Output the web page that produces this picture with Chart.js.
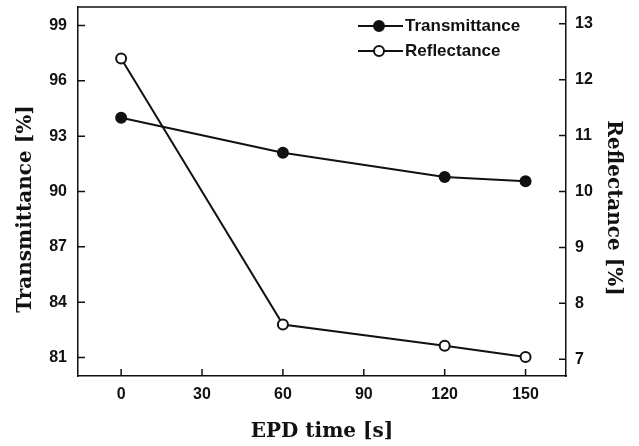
<!DOCTYPE html>
<html>
<head>
<meta charset="utf-8">
<script src="https://cdn.jsdelivr.net/npm/chart.js@4"></script>
<style>
  body { margin: 0; background: #fff; }
  #wrap { width: 639px; height: 446px; }
</style>
</head>
<body>
<div id="wrap"><canvas id="myChart"></canvas></div>
<script>
let times = [0, 60, 120, 150];
let transmittance = [94.0, 92.1, 90.78, 90.55];
let reflectance = [12.38, 7.62, 7.24, 7.04];

let xTicks = [0, 30, 60, 90, 120, 150];
let tTicks = [81, 84, 87, 90, 93, 96, 99];
let rTicks = [7, 8, 9, 10, 11, 12, 13];

const ink = '#111';
const tickFont = { family: 'Liberation Sans, Arial, sans-serif', size: 16, weight: 'bold' };
const titleFont = 'bold 20px "DejaVu Serif", serif';

function setTicks(list) {
    return function (scale) {
        scale.ticks = list.map(v => ({ value: v }));
    };
}

function fitTo(size) {
    return function (s) {
        if (s.isHorizontal()) s.height = size; else s.width = size;
        s.paddingTop = 0;
        s.paddingBottom = 0;
        s.paddingLeft = 0;
        s.paddingRight = 0;
    };
}

// inward tick marks, closed box, axis titles and legend
const decorations = {
    id: 'decorations',
    afterDraw(chart) {
        const c = chart.ctx;
        const a = chart.chartArea;
        const len = 7;
        c.save();
        c.strokeStyle = ink;
        c.lineWidth = 1.5;
        c.beginPath();
        c.moveTo(a.left, a.top);
        c.lineTo(a.right, a.top);
        chart.scales.x.ticks.forEach(t => {
            const px = chart.scales.x.getPixelForValue(t.value);
            c.moveTo(px, a.bottom);
            c.lineTo(px, a.bottom - len);
        });
        chart.scales.y.ticks.forEach(t => {
            const py = chart.scales.y.getPixelForValue(t.value);
            c.moveTo(a.left, py);
            c.lineTo(a.left + len, py);
        });
        chart.scales.y2.ticks.forEach(t => {
            const py = chart.scales.y2.getPixelForValue(t.value);
            c.moveTo(a.right, py);
            c.lineTo(a.right - len, py);
        });
        c.stroke();

        // titles
        c.fillStyle = ink;
        c.font = titleFont;
        c.textAlign = 'center';
        c.textBaseline = 'middle';
        c.fillText('EPD time [s]', (a.left + a.right) / 2, 432);
        c.save();
        c.translate(26, 209);
        c.rotate(-Math.PI / 2);
        c.fillText('Transmittance [%]', 0, 0);
        c.restore();
        c.save();
        c.translate(613, 208);
        c.rotate(Math.PI / 2);
        c.fillText('Reflectance [%]', 0, 0);
        c.restore();

        // legend
        const rows = [26, 51];
        chart.data.datasets.forEach((ds, i) => {
            const y = rows[i];
            c.strokeStyle = ds.borderColor;
            c.lineWidth = 2;
            c.beginPath();
            c.moveTo(358, y);
            c.lineTo(403, y);
            c.stroke();
            c.beginPath();
            c.arc(379, y, 5, 0, Math.PI * 2);
            c.fillStyle = ds.pointBackgroundColor;
            c.fill();
            c.stroke();
            c.fillStyle = ink;
            c.font = 'bold 17px "Liberation Sans", Arial, sans-serif';
            c.textAlign = 'left';
            c.fillText(ds.label, 405, y);
        });
        c.restore();
    }
};

let ctx = document.getElementById('myChart').getContext('2d');

let chart = new Chart(ctx, {
    type: 'line',
    data: {
        datasets: [{
            label: 'Transmittance',
            data: times.map((t, i) => ({ x: t, y: transmittance[i] })),
            yAxisID: 'y',
            borderColor: ink,
            borderWidth: 2,
            pointRadius: 5,
            pointBorderWidth: 2,
            pointBackgroundColor: ink,
            pointBorderColor: ink
        }, {
            label: 'Reflectance',
            data: times.map((t, i) => ({ x: t, y: reflectance[i] })),
            yAxisID: 'y2',
            borderColor: ink,
            borderWidth: 2,
            pointRadius: 5,
            pointBorderWidth: 2,
            pointBackgroundColor: '#fff',
            pointBorderColor: ink
        }]
    },
    options: {
        responsive: true,
        maintainAspectRatio: false,
        animation: false,
        layout: { padding: { top: 6, left: 0, right: 0, bottom: 0 } },
        plugins: {
            legend: { display: false },
            tooltip: { enabled: false }
        },
        scales: {
            x: {
                type: 'linear',
                min: -16,
                max: 165,
                afterBuildTicks: setTicks(xTicks),
                afterFit: fitTo(70),
                grid: { display: false, drawTicks: false },
                border: { display: true, color: ink, width: 1.5 },
                ticks: { color: ink, font: tickFont, padding: 9, maxRotation: 0 }
            },
            y: {
                position: 'left',
                min: 80,
                max: 100,
                afterBuildTicks: setTicks(tTicks),
                afterFit: fitTo(78),
                grid: { display: false, drawTicks: false },
                border: { display: true, color: ink, width: 1.5 },
                ticks: { color: ink, font: tickFont, padding: 11 }
            },
            y2: {
                position: 'right',
                min: 6.7,
                max: 13.3,
                afterBuildTicks: setTicks(rTicks),
                afterFit: fitTo(73),
                grid: { display: false, drawTicks: false },
                border: { display: true, color: ink, width: 1.5 },
                ticks: { color: ink, font: tickFont, padding: 9 }
            }
        }
    },
    plugins: [decorations]
});
</script>
</body>
</html>
